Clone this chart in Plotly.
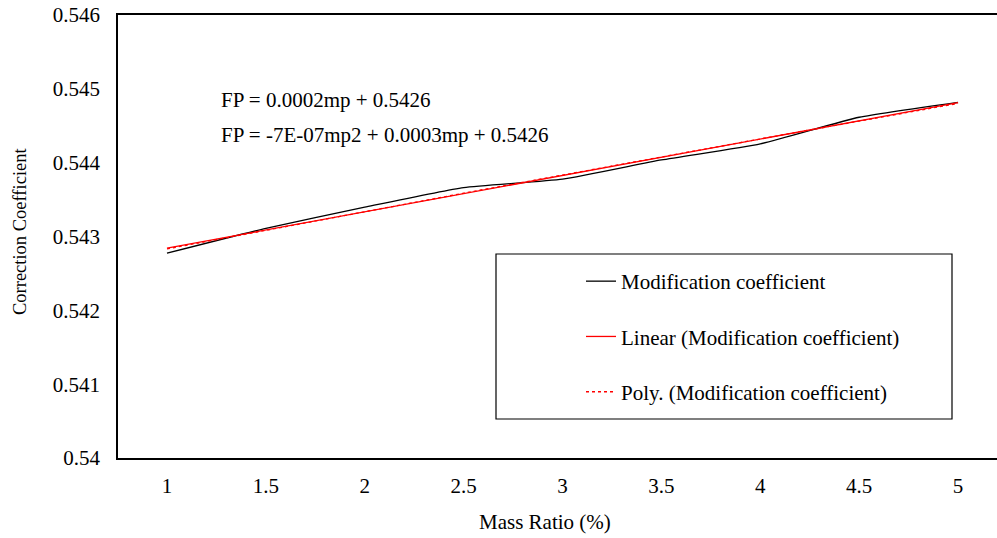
import numpy as np
import plotly.graph_objects as go

mass_ratio = [1, 1.5, 2, 2.5, 3, 3.5, 4, 4.5, 5]
x_tick_labels = ["1", "1.5", "2", "2.5", "3", "3.5", "4", "4.5", "5"]
modification_coefficient = [0.542774, 0.543110, 0.543397, 0.543662, 0.543776,
                            0.544037, 0.544254, 0.544615, 0.544818]
y_tick_vals = [0.54, 0.541, 0.542, 0.543, 0.544, 0.545, 0.546]
y_tick_labels = ["0.54", "0.541", "0.542", "0.543", "0.544", "0.545", "0.546"]
eq_linear = "FP = 0.0002mp + 0.5426"
eq_poly = "FP = -7E-07mp2 + 0.0003mp + 0.5426"

# Excel-style trendlines fitted on the category index (1..9)
idx = np.arange(1, len(mass_ratio) + 1)
lin = np.polyfit(idx, modification_coefficient, 1)
poly = np.polyfit(idx, modification_coefficient, 2)
idx_dense = np.linspace(1, len(mass_ratio), 81)
x_dense = np.interp(idx_dense, idx, mass_ratio)

FONT = "'Liberation Serif', 'Times New Roman', Times, serif"
FS = 21
W, H, L, T, B = 997, 538, 118, 15, 80
PW, PH = W - L, H - T - B


def px(xp):
    return (xp - L) / PW


def py(yp):
    return (H - B - yp) / PH


fig = go.Figure()
fig.add_trace(go.Scatter(
    x=mass_ratio, y=modification_coefficient, mode="lines",
    name="Modification coefficient", legendgroup="a",
    line=dict(color="black", width=1.3, shape="spline", smoothing=0.5)))
fig.add_trace(go.Scatter(
    x=mass_ratio, y=np.polyval(lin, idx), mode="lines",
    name="Linear (Modification coefficient)", legendgroup="b",
    line=dict(color="#ff0000", width=1.3)))
fig.add_trace(go.Scatter(
    x=x_dense, y=np.polyval(poly, idx_dense), mode="lines",
    name="Poly. (Modification coefficient)", legendgroup="c",
    line=dict(color="#ff0000", width=1.3, dash="dot")))

fig.update_layout(
    width=W, height=H,
    margin=dict(l=L, r=0, t=T, b=B),
    paper_bgcolor="white", plot_bgcolor="white",
    font=dict(family=FONT, size=FS, color="black"),
    showlegend=True,
    legend=dict(x=px(581), y=py(261), xanchor="left", yanchor="top",
                borderwidth=0, bgcolor="rgba(0,0,0,0)",
                traceorder="grouped", tracegroupgap=25,
                font=dict(family=FONT, size=FS, color="black")),
    shapes=[dict(type="rect", xref="paper", yref="paper",
                 x0=px(496), x1=px(952), y0=py(419), y1=py(254),
                 line=dict(color="black", width=1.2), fillcolor="white",
                 layer="below")],
    xaxis=dict(range=[0.7523, 5.197], tickvals=mass_ratio, ticktext=x_tick_labels,
               showgrid=False, zeroline=False, showline=True, linecolor="black",
               linewidth=1.5, mirror=True, ticks="outside", ticklen=8,
               tickcolor="rgba(0,0,0,0)", tickfont=dict(family=FONT, size=FS)),
    yaxis=dict(range=[0.54, 0.546], tickvals=y_tick_vals, ticktext=y_tick_labels,
               showgrid=False, zeroline=False, showline=True, linecolor="black",
               linewidth=1.5, ticks="outside", ticklen=12,
               tickcolor="rgba(0,0,0,0)", tickfont=dict(family=FONT, size=FS)),
    annotations=[
        dict(text=eq_linear, xref="paper", yref="paper", x=px(219),
             y=py(100), xanchor="left", yanchor="middle",
             showarrow=False, font=dict(family=FONT, size=FS)),
        dict(text=eq_poly, xref="paper", yref="paper", x=px(219),
             y=py(135), xanchor="left", yanchor="middle",
             showarrow=False, font=dict(family=FONT, size=FS)),
        dict(text="Mass Ratio (%)", xref="paper", yref="paper", x=px(545),
             y=py(522), xanchor="center", yanchor="middle",
             showarrow=False, font=dict(family=FONT, size=FS)),
        dict(text="Correction Coefficient", xref="paper", yref="paper",
             x=px(20), y=py(232), xanchor="center",
             yanchor="middle", textangle=-90, showarrow=False,
             font=dict(family=FONT, size=18.5)),
    ],
)
fig.write_html("out.html")
